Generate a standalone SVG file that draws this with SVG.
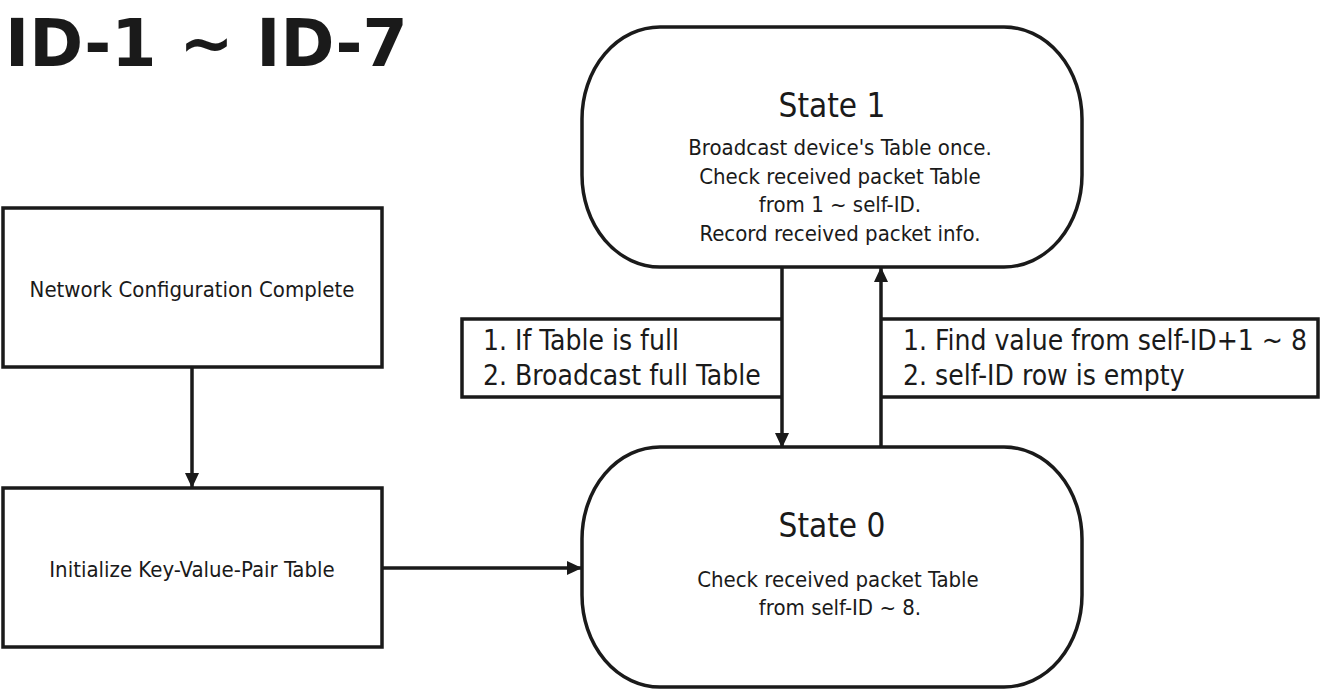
<svg xmlns="http://www.w3.org/2000/svg" width="1322" height="691" viewBox="0 0 1322 691">
<style>
.shape{fill:#fff;stroke:#1a1a1a;stroke-width:3.5}
.line{fill:none;stroke:#1a1a1a;stroke-width:3.5}
text{font-family:"DejaVu Sans Condensed","DejaVu Sans",sans-serif;fill:#1a1a1a}
.body{font-size:22px;text-anchor:middle}
.state{font-size:33px;text-anchor:middle}
.lbl{font-size:28px}
.title{font-family:"DejaVu Sans",sans-serif;font-weight:bold;font-size:65px}
</style>
<defs>
<marker id="arr" markerWidth="15" markerHeight="15" refX="14" refY="7" orient="auto" markerUnits="userSpaceOnUse">
<path d="M0,0 L15,7 L0,14 Z" fill="#1a1a1a"/>
</marker>
</defs>
<rect width="1322" height="691" fill="#fff"/>
<text class="title" x="5" y="66">ID-1 ~ ID-7</text>
<g id="connectors">
<line class="line" x1="192" y1="367" x2="192" y2="487" marker-end="url(#arr)"/>
<line class="line" x1="382" y1="568" x2="581" y2="568" marker-end="url(#arr)"/>
<line class="line" x1="782" y1="267" x2="782" y2="447" marker-end="url(#arr)"/>
<line class="line" x1="881" y1="447" x2="881" y2="268" marker-end="url(#arr)"/>
</g>
<g id="label-left">
<path class="line" d="M782,319 H462 V397 H782"/>
<text class="lbl" x="483" y="350">1. If Table is full</text>
<text class="lbl" x="483" y="385">2. Broadcast full Table</text>
</g>
<g id="label-right">
<path class="line" d="M881,319 H1318 V397 H881"/>
<text class="lbl" x="903" y="350">1. Find value from self-ID+1 ~ 8</text>
<text class="lbl" x="903" y="385">2. self-ID row is empty</text>
</g>
<g id="node-network">
<rect class="shape" x="3" y="208" width="379" height="159"/>
<text class="body" x="192" y="297">Network Configuration Complete</text>
</g>
<g id="node-init">
<rect class="shape" x="3" y="488" width="379" height="159"/>
<text class="body" x="192" y="577">Initialize Key-Value-Pair Table</text>
</g>
<g id="node-state1">
<rect class="shape" x="582" y="27" width="500" height="240" rx="78" ry="92"/>
<text class="state" x="832" y="117">State 1</text>
<text class="body" x="840" y="155">Broadcast device's Table once.</text>
<text class="body" x="840" y="183.5">Check received packet Table</text>
<text class="body" x="840" y="212">from 1 ~ self-ID.</text>
<text class="body" x="840" y="240.5">Record received packet info.</text>
</g>
<g id="node-state0">
<rect class="shape" x="582" y="447" width="500" height="240" rx="78" ry="92"/>
<text class="state" x="832" y="537">State 0</text>
<text class="body" x="838" y="587">Check received packet Table</text>
<text class="body" x="840" y="615">from self-ID ~ 8.</text>
</g>
</svg>
